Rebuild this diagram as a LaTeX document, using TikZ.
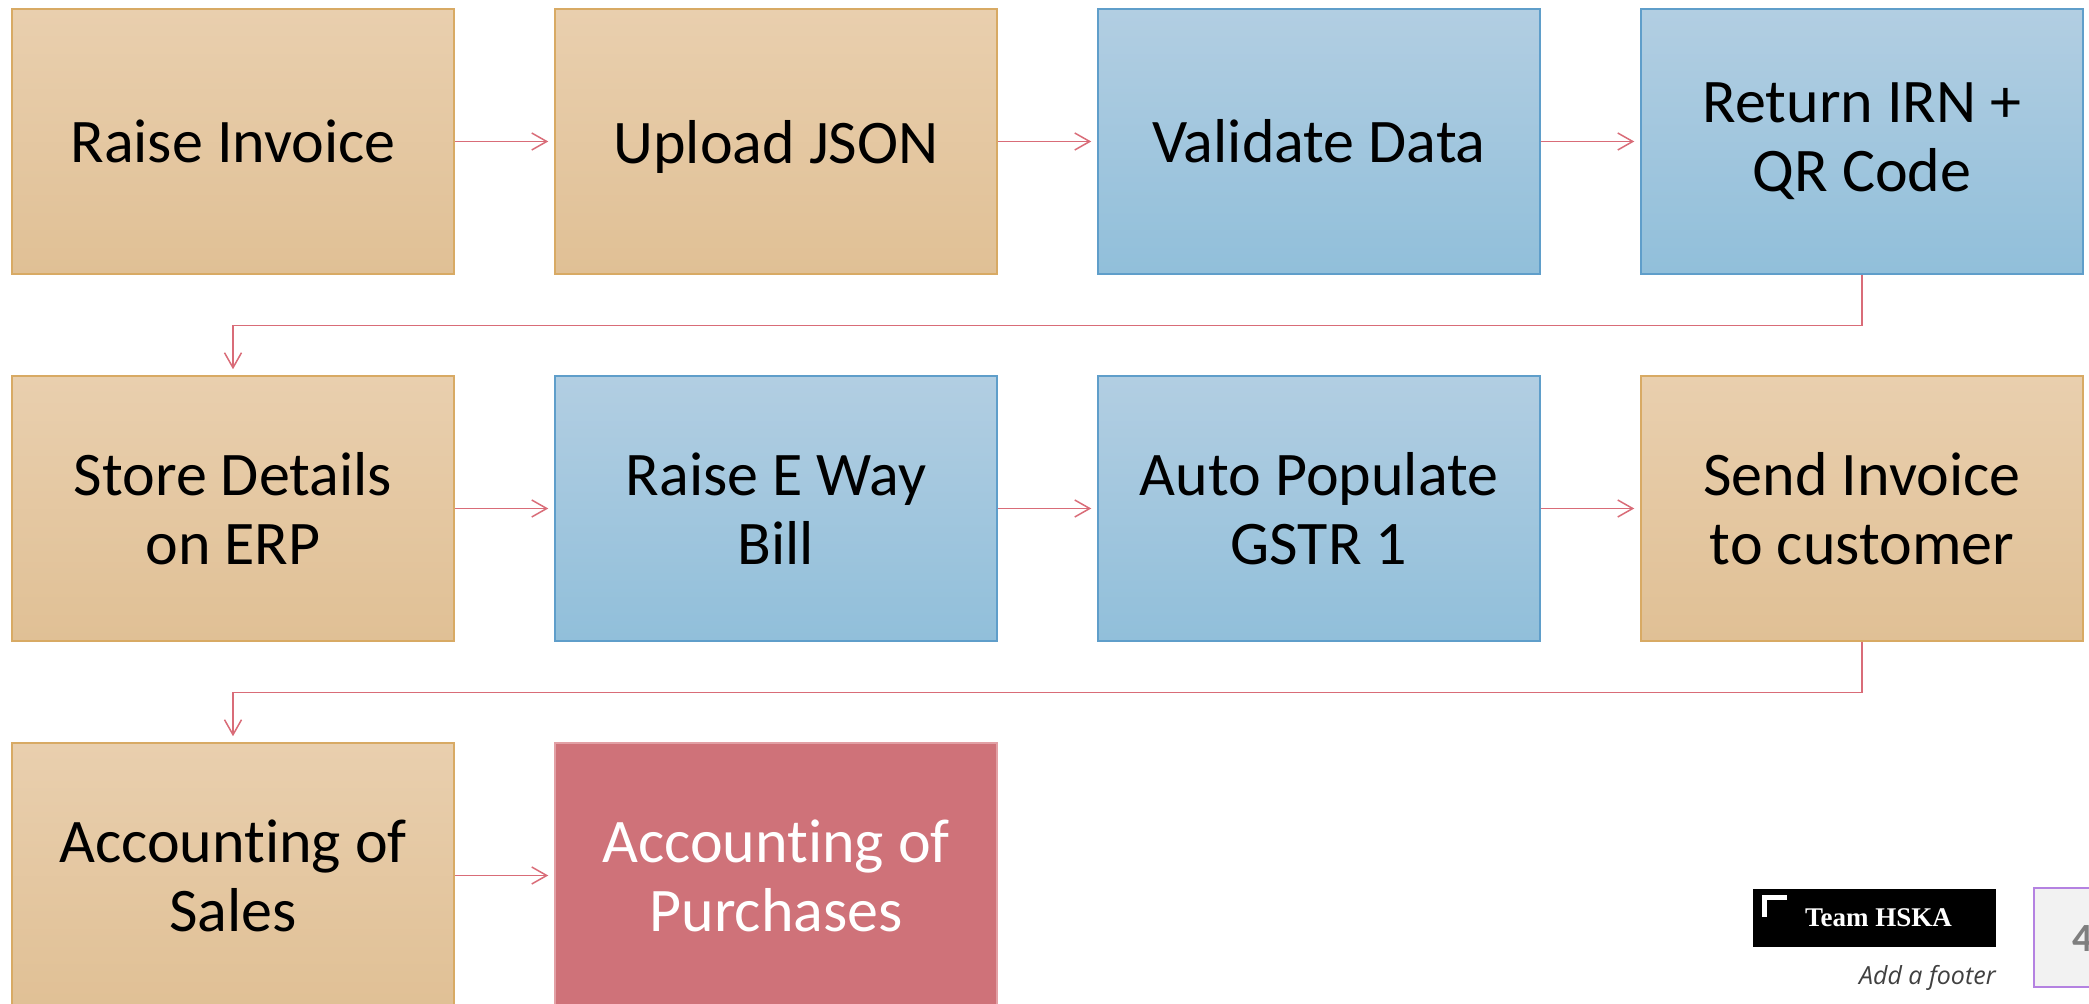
\documentclass[tikz,border=0pt]{standalone}
\usepackage{fontspec}
\setmainfont{Carlito}[Ligatures=NoCommon]
\newfontfamily\teamfont{Liberation Serif}
\newfontfamily\footfont{Open Sans}
\usetikzlibrary{arrows.meta, positioning}

\definecolor{tantop}{RGB}{233,207,174}
\definecolor{tanbot}{RGB}{224,192,149}
\definecolor{tanline}{RGB}{216,170,100}
\definecolor{bluetop}{RGB}{178,206,226}
\definecolor{bluebot}{RGB}{145,191,218}
\definecolor{blueline}{RGB}{95,158,202}
\definecolor{redfill}{RGB}{207,114,121}
\definecolor{redline}{RGB}{226,160,165}
\definecolor{flowred}{RGB}{217,108,120}
\definecolor{pageline}{RGB}{180,130,225}

\begin{document}
\begin{tikzpicture}[x=0.5pt, y=-0.5pt,
    box/.style={minimum width=221pt, minimum height=132.5pt, inner sep=0pt,
        align=center, line width=0.75pt, font=\fontsize{31}{34.5}\selectfont},
    tanbox/.style={box, draw=tanline, top color=tantop, bottom color=tanbot},
    bluebox/.style={box, draw=blueline, top color=bluetop, bottom color=bluebot},
    redbox/.style={box, draw=redline, fill=redfill, text=white},
    flow/.style={draw=flowred, line width=0.75pt,
        -{Straight Barb[length=7.5pt, width=8.5pt]}, shorten >=3pt}]
    \useasboundingbox (0,0) rectangle (2089,1004);

    % First row
    \node[tanbox] (raise) at (233,141.5) {Raise Invoice};
    \node[tanbox, text depth=0pt] (upload) at (776,141.5) {Upload JSON};
    \node[bluebox] (validate) at (1319,141.5) {Validate Data};
    \node[bluebox] (irn) at (1862,141.5) {Return IRN +\\QR Code};

    % Second row
    \node[tanbox] (store) at (233,508.5) {Store Details\\on ERP};
    \node[bluebox] (ewb) at (776,508.5) {Raise E Way\\Bill};
    \node[bluebox] (gstr) at (1319,508.5) {Auto Populate\\GSTR 1};
    \node[tanbox] (send) at (1862,508.5) {Send Invoice\\to customer};

    % Third row
    \node[tanbox] (sales) at (233,875.5) {Account\kern0pt ing of\\Sales};
    \node[redbox] (purch) at (776,875.5) {Account\kern0pt ing of\\Purchases};

    % Arrows along each row
    \draw[flow] (raise.east) -- (upload.west);
    \draw[flow] (upload.east) -- (validate.west);
    \draw[flow] (validate.east) -- (irn.west);
    \draw[flow] (store.east) -- (ewb.west);
    \draw[flow] (ewb.east) -- (gstr.west);
    \draw[flow] (gstr.east) -- (send.west);
    \draw[flow] (sales.east) -- (purch.west);

    % Arrows down to the next row
    \draw[flow] (irn.south) -- ++(0,51) -| (store.north);
    \draw[flow] (send.south) -- ++(0,51) -| (sales.north);

    % Footer
    \node[fill=black, minimum width=121.5pt, minimum height=29pt, inner sep=0pt,
        text=white, font=\teamfont\bfseries\fontsize{13.5}{16}\selectfont]
        (team) at (1874.5,918) {\hspace{4pt}Team HSKA};
    \draw[white, line width=2.5pt] (1787,897.5) -- (1764.5,897.5) -- (1764.5,917.5);
    \node[anchor=base east, inner sep=0pt, text={rgb,255:red,64;green,64;blue,64},
        font=\footfont\itshape\fontsize{12.5}{15}\selectfont]
        (foot) at (1996,985) {Add a footer};

    % Page number
    \draw[pageline, fill={rgb,255:red,242;green,242;blue,242}, line width=0.75pt]
        (2034,888) rectangle (2130,987);
    \node[anchor=base west, inner sep=0pt, text={rgb,255:red,127;green,127;blue,127},
        font=\bfseries\fontsize{20}{24}\selectfont] (page) at (2072,951) {4};
\end{tikzpicture}
\end{document}
